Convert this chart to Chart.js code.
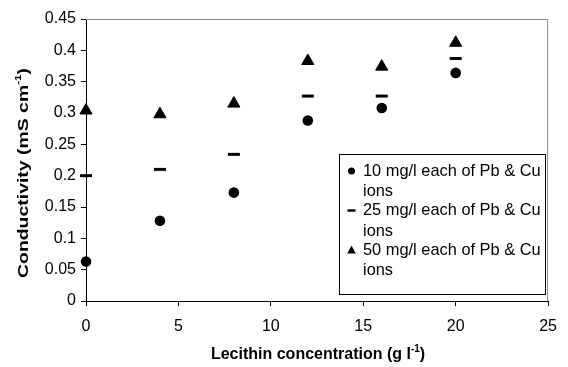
<!DOCTYPE html>
<html>
<head>
<meta charset="utf-8">
<script src="https://cdn.jsdelivr.net/npm/chart.js@4"></script>
<style>
  html, body { margin: 0; padding: 0; background: #fff; }
  #wrap { width: 568px; height: 367px; }
</style>
</head>
<body>
<div id="wrap"><canvas id="chart" width="568" height="367"></canvas></div>
<script>
// lecithin concentration (g/l)
const lecithin = [0, 4, 8, 12, 16, 20];

// conductivity (mS/cm) for each metal ion level
const cond10 = [0.063, 0.128, 0.173, 0.288, 0.308, 0.364];
const cond25 = [0.200, 0.210, 0.234, 0.327, 0.327, 0.387];
const cond50 = [0.304, 0.298, 0.315, 0.383, 0.374, 0.412];

const seriesLabels = [
    '10 mg/l each of Pb & Cu ions',
    '25 mg/l each of Pb & Cu ions',
    '50 mg/l each of Pb & Cu ions'
];

const xTicks = [0, 5, 10, 15, 20, 25];
const yTicks = [0, 0.05, 0.1, 0.15, 0.2, 0.25, 0.3, 0.35, 0.4, 0.45];

const xTitle = 'Lecithin concentration (g l';
const yTitle = 'Conductivity (mS cm';

function toPoints(ys) {
    return lecithin.map((x, i) => ({ x: x, y: ys[i] }));
}

// draws "text^-1)" with a small superscript
function drawSupTitle(ctx, text, size) {
    ctx.font = 'bold ' + size + 'px "Liberation Sans", Arial, sans-serif';
    const w1 = ctx.measureText(text).width;
    ctx.font = 'bold ' + Math.round(size * 0.6) + 'px "Liberation Sans", Arial, sans-serif';
    const w2 = ctx.measureText('-1').width;
    ctx.font = 'bold ' + size + 'px "Liberation Sans", Arial, sans-serif';
    const w3 = ctx.measureText(')').width;
    return { w: w1 + w2 + w3, draw: function (x0, y0) {
        ctx.textAlign = 'left';
        ctx.textBaseline = 'middle';
        ctx.font = 'bold ' + size + 'px "Liberation Sans", Arial, sans-serif';
        ctx.fillText(text, x0, y0);
        ctx.font = 'bold ' + Math.round(size * 0.6) + 'px "Liberation Sans", Arial, sans-serif';
        ctx.fillText('-1', x0 + w1, y0 - size * 0.38);
        ctx.font = 'bold ' + size + 'px "Liberation Sans", Arial, sans-serif';
        ctx.fillText(')', x0 + w1 + w2, y0);
    } };
}

function drawMarker(ctx, style, x, y, r) {
    ctx.fillStyle = '#000';
    ctx.strokeStyle = '#000';
    ctx.beginPath();
    if (style === 'circle') {
        ctx.arc(x, y, r, 0, Math.PI * 2);
        ctx.fill();
    } else if (style === 'line') {
        ctx.lineWidth = 2.5;
        ctx.moveTo(x - r - 0.5, y);
        ctx.lineTo(x + r + 0.5, y);
        ctx.stroke();
    } else {
        ctx.moveTo(x, y - r);
        ctx.lineTo(x + r * 0.95, y + r * 0.75);
        ctx.lineTo(x - r * 0.95, y + r * 0.75);
        ctx.closePath();
        ctx.fill();
    }
}

const framePlugin = {
    id: 'frame',
    beforeDatasetsDraw(chart) {
        const ctx = chart.ctx;
        const a = chart.chartArea;
        ctx.save();
        ctx.strokeStyle = '#8a8a8a';
        ctx.lineWidth = 1;
        ctx.beginPath();
        ctx.moveTo(a.left, a.top + 0.5);
        ctx.lineTo(a.right - 0.5, a.top + 0.5);
        ctx.lineTo(a.right - 0.5, a.bottom);
        ctx.stroke();
        ctx.restore();
    },
    afterDraw(chart) {
        const ctx = chart.ctx;
        const a = chart.chartArea;
        ctx.save();
        ctx.fillStyle = '#000';

        // x title
        const xt = drawSupTitle(ctx, xTitle, 16);
        xt.draw((a.left + a.right) / 2 - xt.w / 2 + 1, 355);

        // y title, stretched along its length
        ctx.save();
        ctx.translate(24, 173);
        ctx.rotate(-Math.PI / 2);
        const yt = drawSupTitle(ctx, yTitle, 15);
        const k = 210 / yt.w;
        ctx.scale(k, 1);
        yt.draw(-yt.w / 2, 0);
        ctx.restore();

        // legend box
        const bx = 339.5, by = 154.5, bw = 206, bh = 140;
        ctx.fillStyle = '#fff';
        ctx.fillRect(bx, by, bw, bh);
        ctx.strokeStyle = '#000';
        ctx.lineWidth = 1;
        ctx.strokeRect(bx, by, bw, bh);

        ctx.font = '16.4px "Liberation Sans", Arial, sans-serif';
        ctx.textAlign = 'left';
        ctx.textBaseline = 'middle';
        chart.data.datasets.forEach((ds, i) => {
            const words = ds.label.split(' ');
            const lines = [];
            let cur = '';
            words.forEach(w => {
                const t = cur ? cur + ' ' + w : w;
                if (ctx.measureText(t).width > 182 && cur) {
                    lines.push(cur);
                    cur = w;
                } else {
                    cur = t;
                }
            });
            lines.push(cur);
            const y0 = 171 + i * 39.5;
            drawMarker(ctx, ds.pointStyle, 351.5, y0, ds.pointStyle === 'triangle' ? 4.5 : 3.5);
            ctx.fillStyle = '#000';
            lines.forEach((ln, j) => ctx.fillText(ln, 363, y0 + j * 20.5));
        });
        ctx.restore();
    }
};

new Chart(document.getElementById('chart'), {
    type: 'scatter',
    data: {
        datasets: [
            { label: seriesLabels[0], data: toPoints(cond10), pointStyle: 'circle', pointRadius: 5.3,
              backgroundColor: '#000', borderColor: '#000', borderWidth: 0, clip: false },
            { label: seriesLabels[1], data: toPoints(cond25), pointStyle: 'line', pointRadius: 6,
              backgroundColor: '#000', borderColor: '#000', borderWidth: 3, clip: false },
            { label: seriesLabels[2], data: toPoints(cond50), pointStyle: 'triangle', pointRadius: 7,
              backgroundColor: '#000', borderColor: '#000', borderWidth: 1, clip: false }
        ]
    },
    options: {
        responsive: false,
        animation: false,
        events: [],
        layout: { padding: { left: 0, right: 9, top: 19, bottom: 0 } },
        plugins: { legend: { display: false }, tooltip: { enabled: false } },
        scales: {
            x: {
                type: 'linear',
                min: 0, max: 25,
                afterFit: s => { s.height = 66; },
                afterBuildTicks: s => { s.ticks = xTicks.map(v => ({ value: v })); },
                grid: { display: true, drawOnChartArea: false, drawTicks: true, tickLength: 5, color: '#000' },
                border: { display: true, color: '#000', width: 1 },
                ticks: { color: '#000', padding: 11, maxRotation: 0,
                         font: { family: '"Liberation Sans", Arial, sans-serif', size: 16 } }
            },
            y: {
                type: 'linear',
                min: 0, max: 0.45,
                afterFit: s => { s.width = 86; },
                afterBuildTicks: s => { s.ticks = yTicks.map(v => ({ value: v })); },
                grid: { display: true, drawOnChartArea: false, drawTicks: true, tickLength: 5, color: '#000' },
                border: { display: true, color: '#000', width: 1 },
                ticks: { color: '#000', padding: 5,
                         callback: v => String(Math.round(v * 100) / 100),
                         font: { family: '"Liberation Sans", Arial, sans-serif', size: 16 } }
            }
        }
    },
    plugins: [framePlugin]
});
</script>
</body>
</html>
